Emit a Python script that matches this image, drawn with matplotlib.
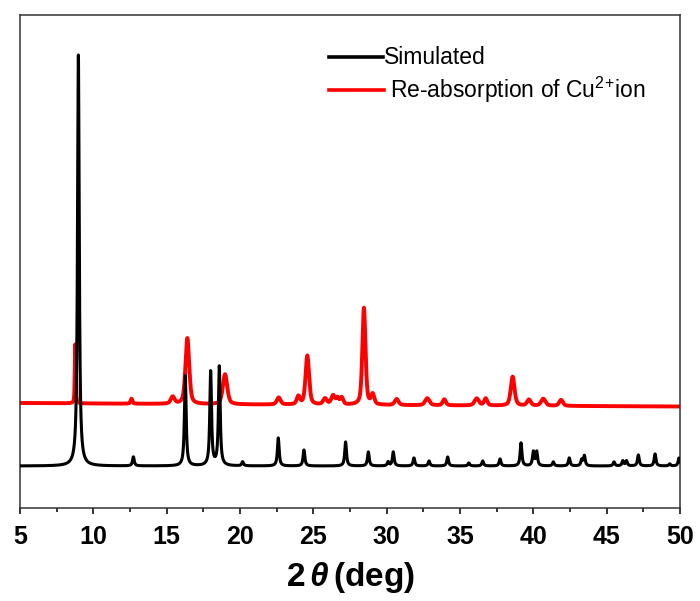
import numpy as np
import matplotlib
matplotlib.use("Agg")
from matplotlib import pyplot as plt

plt.rcParams['font.family'] = ['Liberation Sans', 'DejaVu Sans']
plt.rcParams['mathtext.fontset'] = 'custom'
plt.rcParams['mathtext.rm'] = 'Liberation Sans'
plt.rcParams['mathtext.it'] = 'Liberation Sans:italic:bold'
plt.rcParams['mathtext.bf'] = 'Liberation Sans:bold'

# simulated pattern: peak positions (deg), heights above baseline (a.u.)
sim_pos = [8.98, 12.73, 16.27, 18.0, 18.59, 20.18, 22.61, 24.36, 27.2, 28.75,
           30.1, 30.45, 31.86, 32.89, 34.16, 35.6, 36.55, 37.73, 39.16, 40.0,
           40.23, 41.36, 42.45, 43.3, 43.48, 45.5, 46.1, 46.35, 47.16, 48.3,
           49.3, 49.93]
sim_height = [411, 9, 90, 94, 99, 4, 28, 16, 24, 14,
              4, 14, 8, 5, 9, 3, 5, 7, 23, 14,
              14, 4, 8, 6, 10, 4, 5, 5, 11, 12,
              2, 8]
sim_base = 42

# re-absorption pattern: positions, heights, widths (fwhm)
cu_pos = [8.77, 12.6, 15.41, 16.41, 18.98, 22.64, 23.98, 24.59, 25.8, 26.35,
          26.65, 26.93, 28.45, 29.05, 30.68, 32.77, 33.93, 36.14, 36.75, 38.59,
          39.7, 40.68, 41.89]
cu_height = [59, 5, 7, 66, 30, 7, 8, 49, 6, 9,
             6, 7, 97, 10, 6, 7, 6, 7, 7, 29,
             6, 7, 6]
cu_fwhm = [0.08, 0.15, 0.3, 0.3, 0.35, 0.3, 0.25, 0.28, 0.3, 0.3,
           0.2, 0.25, 0.25, 0.25, 0.3, 0.35, 0.25, 0.35, 0.25, 0.3,
           0.3, 0.35, 0.3]
cu_base_x = [5, 20, 35, 50]
cu_base_y = [105, 103.5, 102.5, 101.5]


def pseudo_voigt(x, pos, height, fwhm, eta):
    g = fwhm / 2
    lor = 1 / (1 + ((x - pos) / g) ** 2)
    gau = np.exp(-np.log(2) * ((x - pos) / g) ** 2)
    return height * (eta * lor + (1 - eta) * gau)


x = np.linspace(5, 50, 4501)
y_sim = np.full_like(x, sim_base, dtype=float)
for p, h in zip(sim_pos, sim_height):
    y_sim += pseudo_voigt(x, p, h, 0.14, 0.9)

y_cu = np.interp(x, cu_base_x, cu_base_y)
for p, h, w in zip(cu_pos, cu_height, cu_fwhm):
    y_cu += pseudo_voigt(x, p, h, w, 0.5)

fig = plt.figure(figsize=(7, 6.01), dpi=100)
ax = fig.add_axes([20 / 700, 1 - 508 / 601, 660 / 700, 493 / 601])

ax.plot(x, y_cu, color='#ff0000', lw=2.8, zorder=2)
ax.plot(x, y_sim, color='black', lw=2.2, zorder=3)

ax.set_xlim(5, 50)
ax.set_ylim(0, 493)
ax.set_yticks([])
ax.set_xticks(range(5, 51, 5))
ax.set_xticks(np.arange(7.5, 50, 5), minor=True)
ax.tick_params(axis='x', which='major', direction='out', length=4.5, width=1.1,
               pad=8, labelsize=18)
ax.tick_params(axis='x', which='minor', direction='out', length=2.8, width=1.1)
for lab in ax.get_xticklabels():
    lab.set_fontweight('bold')
for s in ax.spines.values():
    s.set_linewidth(1.1)
    s.set_color('#333333')

ax.set_xlabel(r'2$\,\mathit{\theta}\,$(deg)', fontsize=24, fontweight='bold',
              labelpad=8)

# legend drawn by hand
ax.plot([0.468, 0.55], [0.9146, 0.9146], color='black', lw=2.6,
        transform=ax.transAxes)
ax.text(0.551, 0.9146, 'Simulated', fontsize=16.5, va='center', ha='left',
        transform=ax.transAxes)
ax.plot([0.468, 0.552], [0.848, 0.848], color='#ff0000', lw=2.6,
        transform=ax.transAxes)
ax.text(0.561, 0.848, r'Re-absorption of Cu$^{2}$$^{+}$ion',
        fontsize=16.5, va='center', ha='left', transform=ax.transAxes)

fig.savefig('out.png', dpi=100)
